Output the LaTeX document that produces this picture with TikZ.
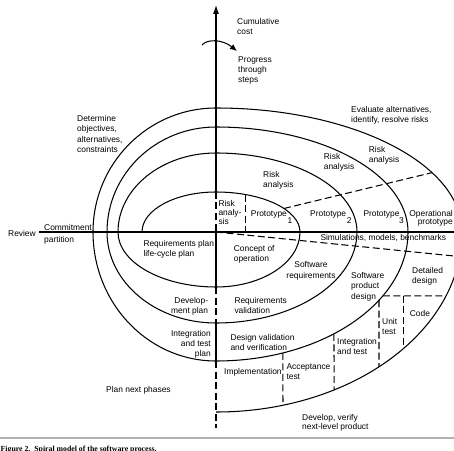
\documentclass[tikz,border=0pt]{standalone}
\usepackage{fontspec}
\setmainfont{Liberation Sans}
\newfontfamily\capfont{Liberation Serif}
\usetikzlibrary{calc,arrows.meta}
\begin{document}
\begin{tikzpicture}[x=1pt,y=1pt,
  txt/.style={font=\fontsize{8.4}{10}\selectfont, inner sep=0pt, align=left, anchor=base west},
  txtr/.style={txt, align=right, anchor=base east},
  txtc/.style={txt, align=center, anchor=base},
  spiral/.style={line width=1.05pt},
  dline/.style={line width=1.05pt, dash pattern=on 7pt off 3.5pt},
  axl/.style={line width=1.05pt}
]
\fill[white] (0,0) rectangle (454,450);
\useasboundingbox (0,0) rectangle (454,450);
\clip (0,0) rectangle (454,450);
\coordinate (C) at (216,218);
% spiral
\draw[spiral] (142,218)
  arc[start angle=180,end angle=90,x radius=74pt,y radius=40pt]
  arc[start angle=90,end angle=0,x radius=84pt,y radius=40pt]
  arc[start angle=0,end angle=-90,x radius=84pt,y radius=55pt]
  arc[start angle=-90,end angle=-180,x radius=98pt,y radius=55pt]
  arc[start angle=180,end angle=90,x radius=98pt,y radius=79pt]
  arc[start angle=90,end angle=0,x radius=141pt,y radius=79pt]
  arc[start angle=0,end angle=-90,x radius=141pt,y radius=91pt]
  arc[start angle=-90,end angle=-180,x radius=109pt,y radius=91pt]
  arc[start angle=180,end angle=90,x radius=109pt,y radius=105pt]
  arc[start angle=90,end angle=0,x radius=192pt,y radius=105pt]
  arc[start angle=0,end angle=-90,x radius=192pt,y radius=129pt]
  arc[start angle=-90,end angle=-180,x radius=123pt,y radius=129pt]
  arc[start angle=180,end angle=90,x radius=123pt,y radius=124pt]
  arc[start angle=90,end angle=0,x radius=246pt,y radius=124pt]
  arc[start angle=0,end angle=-90,x radius=246pt,y radius=180pt];
% axes
\coordinate (axtop) at (216,445);
\coordinate (axA) at (216,258);
\coordinate (axB) at (216,163);
\coordinate (axC) at (216,127);
\coordinate (axD) at (216,89);
\coordinate (axbot) at (216,22);
\draw[axl,-{Latex[length=9pt,width=6pt]}] (axA) -- (axtop);
\draw[dline] (axA) -- (C);
\draw[axl] (C) -- (axB);
\draw[dline] (axB) -- (axC);
\draw[axl] (axC) -- (axD);
\draw[dline] (axD) -- (axbot);
\coordinate (hl) at (39,218);
\coordinate (hr) at (454,218);
\draw[axl] (hl) -- (hr);
% progress arrow
\coordinate (ca) at (202,405);
\coordinate (cb) at (237,399);
\draw[axl,-{Latex[length=7pt,width=6pt]}] (ca) .. controls (207,411) and (222,411) .. (cb);
% dashed boundaries
\coordinate (r1) at ($(C)+(36:84pt and 40pt)$);
\coordinate (r2) at ($(C)+(28.6:246pt and 124pt)$);
\draw[dline] (r1) -- (r2);
\coordinate (v1) at ($(C)+(69.1:84pt and 40pt)$);
\draw[dline] (v1) -- (v1 |- C);
\coordinate (s2) at (460,193.4);
\draw[dline] (C) -- (s2);
\coordinate (h1) at ($(C)+(-29.7:192pt and 129pt)$);
\coordinate (h2) at ($(C)+(-20.8:246pt and 180pt)$);
\draw[dline] (h1) -- (h2);
\coordinate (c1) at ($(C)+(-40.2:246pt and 180pt)$);
\draw[dline] (c1 |- h1) -- (c1);
\coordinate (u1) at ($(C)+(-31.9:192pt and 129pt)$);
\coordinate (u2) at ($(C)+(-48.5:246pt and 180pt)$);
\draw[dline] (u1) -- (u2);
\coordinate (i1) at ($(C)+(-52.1:192pt and 129pt)$);
\coordinate (i2) at ($(C)+(-61.3:246pt and 180pt)$);
\draw[dline] (i1) -- (i2);
\coordinate (a1) at ($(C)+(-69.6:192pt and 129pt)$);
\coordinate (a2) at ($(C)+(-74.2:246pt and 180pt)$);
\draw[dline] (a1) -- (a2);
% caption rule
\coordinate (rl) at (0,12);
\coordinate (rr) at (454,12);
\draw[gray!60, line width=1.3pt] (rl) -- (rr);
% texts (base = baseline of last line)
\node[txt] (cum) at (237,415.3) {Cumulative\\cost};
\node[txt] (prog) at (238,367) {Progress\\through\\steps};
\node[txt] (eval) at (351,327.7) {Evaluate alternatives,\\identify, resolve risks};
\node[txt, font=\fontsize{8.4}{10.5}\selectfont] (det) at (77,297.2) {Determine\\objectives,\\alternatives,\\constraints};
\node[txt] (ra1) at (263,262) {Risk\\analysis};
\node[txt] (ra2) at (323.7,280.3) {Risk\\analysis};
\node[txt] (ra3) at (368.7,287) {Risk\\analysis};
\node[txt, font=\fontsize{8.4}{9.2}\selectfont] (ra0) at (218.3,225.3) {Risk\\analy-\\sis};
\node[txt] (p1) at (250.7,233.7) {Prototype};
\node[txt] (p1n) at (287.3,227) {1};
\node[txt] (p2) at (310,233.7) {Prototype};
\node[txt] (p2n) at (346.7,227) {2};
\node[txt] (p3) at (363.3,233.7) {Prototype};
\node[txt] (p3n) at (399,227) {3};
\node[txtr, font=\fontsize{8.4}{8.6}\selectfont] (op) at (453,225.3) {Operational\\prototype};
\node[txt] (sim) at (320.3,210) {Simulations, models, benchmarks};
\node[txt] (review) at (8,213.7) {Review};
\node[txt] (commit) at (44,219.7) {Commitment};
\node[txt] (part) at (44,208) {partition};
\node[txt] (rp) at (143.3,193.7) {Requirements plan\\life-cycle plan};
\node[txt] (co) at (233.7,188.7) {Concept of\\operation};
\node[txtc, font=\fontsize{8.4}{10.7}\selectfont] (sr) at (311,172) {Software\\requirements};
\node[txt, font=\fontsize{8.4}{10.5}\selectfont] (spd) at (351,151) {Software\\product\\design};
\node[txt] (dd) at (412,167) {Detailed\\design};
\node[txtr, font=\fontsize{8.4}{9.4}\selectfont] (dp) at (208.3,137) {Develop-\\ment plan};
\node[txt] (rv) at (234.3,137) {Requirements\\validation};
\node[txt] (code) at (409.7,133.7) {Code};
\node[txt] (ut) at (382,115.3) {Unit\\test};
\node[txtr] (itp) at (211,93.7) {Integration\\and test\\plan};
\node[txt] (dvv) at (230.3,99.3) {Design validation\\and verification};
\node[txt] (it) at (337,95.3) {Integration\\and test};
\node[txt] (at) at (286.3,70.3) {Acceptance\\test};
\node[txt] (impl) at (224,75.3) {Implementation};
\node[txt] (pnp) at (106,58) {Plan next phases};
\node[txt, font=\fontsize{8.4}{9}\selectfont] (dv) at (302,20.3) {Develop, verify\\next-level product};
\node[inner sep=0pt, anchor=base west, font=\capfont\bfseries\fontsize{7.8}{9}\selectfont] (cap) at (0.5,-1) {Figure 2.\ \ Spiral model of the software process.};
\end{tikzpicture}
\end{document}
